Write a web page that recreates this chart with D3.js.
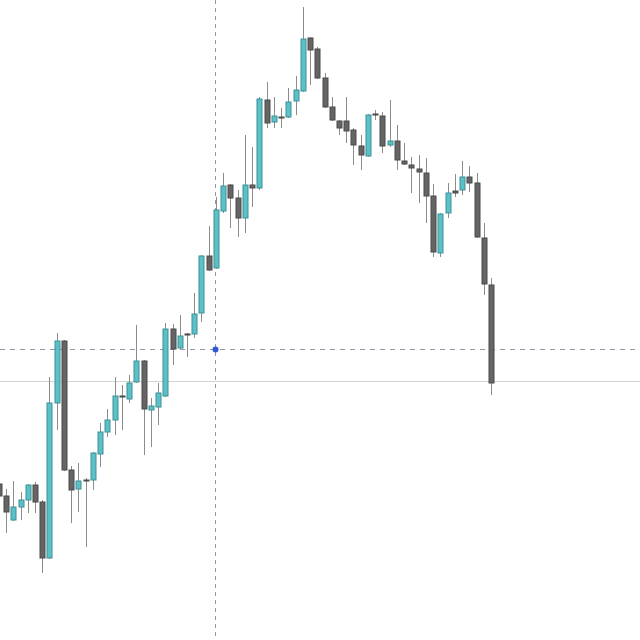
<!DOCTYPE html>
<html>
<head>
<meta charset="utf-8">
<script src="https://cdn.jsdelivr.net/npm/d3@7"></script>
<style>
  html, body { margin: 0; padding: 0; background: #fff; }
  svg { display: block; }
</style>
</head>
<body>
<svg id="chart" width="640" height="640"></svg>
<script>
// candle values in price points (higher = up)
const opens = [216, 204, 180, 193, 200, 215, 198, 142, 297, 359, 230, 211, 220, 220, 246, 268, 280, 304, 301, 318,
  339, 290, 293, 304, 371, 352, 366, 366, 387, 444, 432, 489, 515, 502, 482, 515, 512, 600, 578, 583,
  583, 599, 609, 662, 651, 622, 593, 579, 579, 570, 554, 544, 586, 584, 555, 559, 539, 535, 531, 527,
  504, 447, 487, 509, 510, 523, 517, 462, 415];
const highs = [220, 211, 219, 208, 216, 218, 200, 323, 367, 360, 234, 237, 222, 248, 277, 291, 323, 315, 325, 375,
  340, 302, 317, 377, 376, 385, 367, 407, 445, 474, 503, 527, 516, 510, 565, 553, 603, 618, 603, 592,
  612, 624, 693, 663, 653, 627, 603, 580, 603, 572, 565, 586, 590, 588, 600, 575, 557, 543, 545, 542,
  516, 487, 517, 526, 539, 534, 527, 477, 422];
const lows = [200, 167, 179, 180, 187, 187, 127, 141, 270, 229, 177, 188, 153, 210, 233, 263, 265, 270, 297, 317,
  245, 253, 275, 303, 335, 351, 343, 362, 378, 429, 431, 487, 472, 463, 467, 493, 510, 572, 572, 572,
  582, 585, 608, 615, 621, 592, 579, 565, 557, 535, 530, 543, 580, 547, 553, 530, 535, 507, 497, 477,
  443, 443, 482, 503, 505, 508, 462, 405, 305];
const closes = [204, 188, 193, 200, 215, 198, 142, 297, 359, 230, 210, 219, 219, 247, 268, 280, 304, 303, 317, 339,
  291, 294, 307, 371, 351, 364, 365, 386, 444, 430, 490, 514, 502, 482, 515, 512, 601, 577, 584, 582,
  598, 610, 661, 650, 622, 593, 580, 572, 569, 555, 545, 585, 585, 554, 559, 540, 536, 532, 528, 504,
  448, 486, 507, 507, 523, 517, 463, 416, 317];

const crosshairIndex = 29.9;
const crosshairPrice = 351;
const lastPrice = 319;

const upFill = "#5bc1c8", upStroke = "#3f9096";
const downFill = "#656565", downStroke = "#4a4a4a";
const wickColor = "#8c8c8c";

const candles = opens.map((o, i) => ({ i, o, h: highs[i], l: lows[i], c: closes[i] }));

const width = 640, height = 640;
const svg = d3.select("#chart");

const x = d3.scaleLinear().domain([0, candles.length - 1]).range([-1.2, 491]);
const y = d3.scaleLinear().domain([60, 700]).range([640, 0]);

const bodyW = 5;

// price line
svg.append("line")
  .attr("x1", 0).attr("x2", width)
  .attr("y1", Math.round(y(lastPrice)) + 0.5).attr("y2", Math.round(y(lastPrice)) + 0.5)
  .attr("stroke", "#d4d4d4")
  .attr("stroke-width", 1);

// crosshair
const cx = Math.round(x(crosshairIndex)) + 0.5;
const cy = Math.round(y(crosshairPrice)) + 0.5;
svg.append("line")
  .attr("x1", cx).attr("x2", cx).attr("y1", 0).attr("y2", height)
  .attr("stroke", "#8f98aa").attr("stroke-width", 1).attr("stroke-dasharray", "4,4");
svg.append("line")
  .attr("x1", 0).attr("x2", width).attr("y1", cy).attr("y2", cy)
  .attr("stroke", "#8f98aa").attr("stroke-width", 1).attr("stroke-dasharray", "5,5");

const g = svg.append("g");

g.selectAll("line.wick")
  .data(candles)
  .enter()
  .append("line")
  .attr("class", "wick")
  .attr("x1", d => Math.round(x(d.i)) + 0.5)
  .attr("x2", d => Math.round(x(d.i)) + 0.5)
  .attr("y1", d => y(d.h))
  .attr("y2", d => y(d.l))
  .attr("stroke", wickColor)
  .attr("stroke-width", 1);

g.selectAll("rect.body")
  .data(candles)
  .enter()
  .append("rect")
  .attr("class", "body")
  .attr("x", d => Math.round(x(d.i)) - 2)
  .attr("width", bodyW)
  .attr("y", d => y(Math.max(d.o, d.c)))
  .attr("height", d => Math.max(1, Math.abs(y(d.o) - y(d.c))))
  .attr("fill", d => d.c > d.o ? upFill : downFill)
  .attr("stroke", d => d.c > d.o ? upStroke : downStroke)
  .attr("stroke-width", 1);

svg.append("circle")
  .attr("cx", cx).attr("cy", cy).attr("r", 3)
  .attr("fill", "#2f5ad6");
</script>
</body>
</html>
